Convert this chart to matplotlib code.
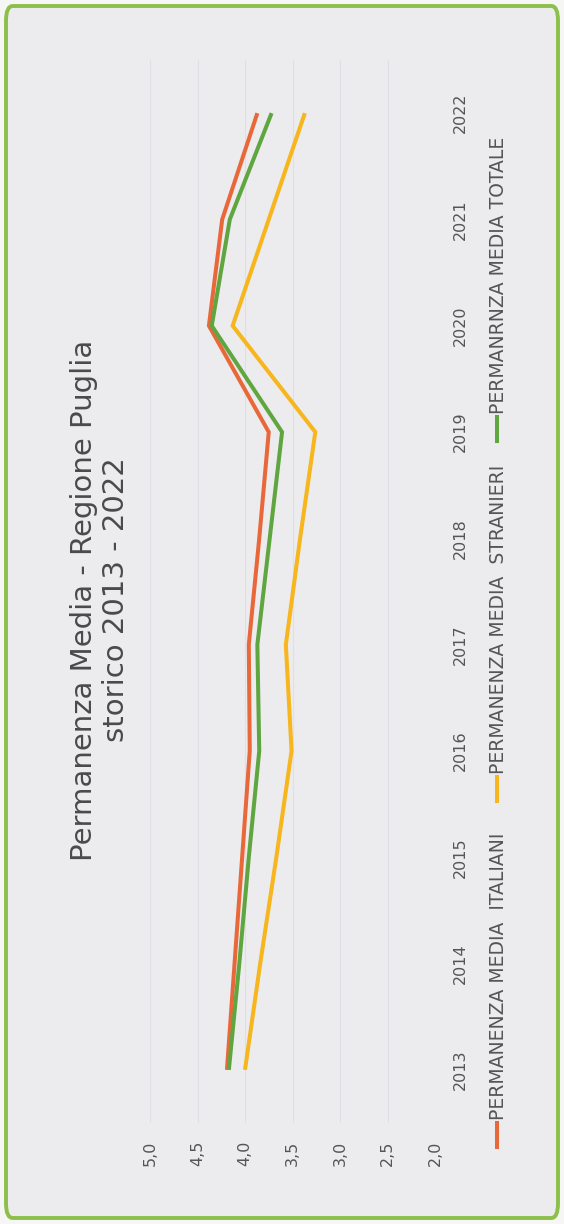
import numpy as np
import matplotlib
matplotlib.use("Agg")
import matplotlib.pyplot as plt
from matplotlib.patches import FancyBboxPatch
from matplotlib.lines import Line2D

years = [2013, 2014, 2015, 2016, 2017, 2018, 2019, 2020, 2021, 2022]
italiani = [4.19, 4.11, 4.03, 3.95, 3.96, 3.85, 3.75, 4.38, 4.24, 3.87]
stranieri = [4.00, 3.84, 3.67, 3.51, 3.57, 3.42, 3.26, 4.13, 3.75, 3.37]
totale = [4.17, 4.06, 3.96, 3.85, 3.87, 3.74, 3.61, 4.35, 4.16, 3.72]

value_ticks = [2.0, 2.5, 3.0, 3.5, 4.0, 4.5, 5.0]
value_labels = ["2,0", "2,5", "3,0", "3,5", "4,0", "4,5", "5,0"]
series_names = ["PERMANENZA MEDIA  ITALIANI", "PERMANENZA MEDIA  STRANIERI",
                "PERMANRNZA MEDIA TOTALE"]
title = "Permanenza Media - Regione Puglia\nstorico 2013 - 2022"

c_ita = "#E8683A"
c_str = "#F7B51E"
c_tot = "#5FA640"
txt = "#555555"

W, H = 564, 1224
fig = plt.figure(figsize=(W / 100, H / 100), dpi=100, facecolor="#F6F6F4")

# frame of the chart (green rounded border)
frame = FancyBboxPatch((6 / W, 6 / H), (W - 12) / W, (H - 12) / H,
                       boxstyle="round,pad=0,rounding_size=0.012",
                       transform=fig.transFigure, facecolor="#ECECEE",
                       edgecolor="#8DBF4B", linewidth=2.8, zorder=-5)
fig.patches.append(frame)

# plot area (chart is shown rotated: values run horizontally, years vertically)
left, right, top, bottom = 150, 435, 60, 1123
ax = fig.add_axes([left / W, (H - bottom) / H, (right - left) / W, (bottom - top) / H])
ax.set_facecolor("none")
ax.set_zorder(2)

for vals, col in [(italiani, c_ita), (stranieri, c_str), (totale, c_tot)]:
    ax.plot(vals, years, color=col, lw=2.9, solid_capstyle="butt", solid_joinstyle="miter")

ax.set_xlim(5.0, 2.0)
ax.set_ylim(2012.5, 2022.5)
ax.set_xticks(value_ticks)
ax.set_xticklabels(value_labels, rotation=90, fontsize=11.5, color=txt)
ax.yaxis.tick_right()
ax.set_yticks(years)
ax.set_yticklabels([str(y) for y in years], rotation=90, fontsize=11.5, color=txt,
                   va="center")
ax.tick_params(axis="x", length=0, pad=13)
ax.tick_params(axis="y", length=0, pad=13)
ax.grid(axis="x", color="#E0E0E4", lw=0.8)
for s in ax.spines.values():
    s.set_visible(False)

# title
fig.text(100 / W, 1 - 600 / H, title, rotation=90, ha="center", va="center",
         multialignment="center", fontsize=21, color="#4A4A4A", linespacing=1.2)

# legend, drawn rotated along the right side
leg_x = 497
for name, col, y0 in [(series_names[0], c_ita, 1147),
                      (series_names[1], c_str, 801),
                      (series_names[2], c_tot, 441)]:
    fig.add_artist(Line2D([leg_x / W, leg_x / W], [1 - y0 / H, 1 - (y0 - 24) / H],
                          transform=fig.transFigure, color=col, lw=2.9))
    fig.text((leg_x + 1) / W, 1 - (y0 - 27) / H, name, rotation=90, ha="center",
             va="bottom", fontsize=13.5, color=txt)

fig.savefig("out.png", dpi=100, facecolor=fig.get_facecolor())
